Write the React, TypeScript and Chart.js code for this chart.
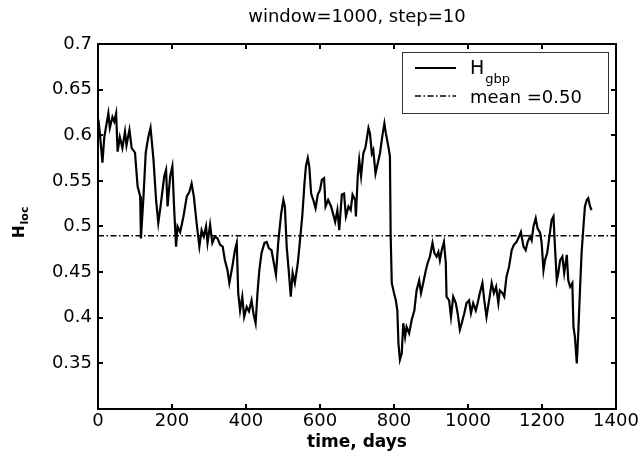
import { useEffect, useRef } from 'react';
import { Chart, registerables } from 'chart.js';

Chart.register(...registerables);

const titleText = 'window=1000, step=10';
const xLabel = 'time, days';
const yLabelMain = 'H';
const yLabelSub = 'loc';
const seriesMain = 'H';
const seriesSub = 'gbp';
const meanLabel = 'mean =0.50';

const days = [
  1, 5, 12, 17, 28, 32, 39, 44, 49, 53, 59, 66, 73, 77, 85, 91, 100, 107, 114, 116, 123, 129, 136, 142, 150, 157, 163, 170, 179, 184,
  188, 195, 201, 206, 211, 215, 222, 231, 240, 247, 253, 259, 267, 274, 280, 286, 292, 296, 303, 309, 316, 323, 330, 337, 343, 350, 355,
  363, 370, 375, 379, 384, 390, 395, 402, 408, 415, 420, 426, 431, 436, 442, 450, 456, 462, 469, 477, 481, 487, 495, 501, 505, 510, 516,
  521, 526, 532, 540, 546, 552, 558, 562, 567, 571, 576, 582, 588, 594, 600, 605, 611, 615, 622, 630, 636, 641, 647, 652, 659, 665, 670,
  677, 683, 688, 695, 697, 702, 706,
  711, 717, 723, 731, 735, 740, 744, 750, 756, 762, 768, 774, 778, 785, 789, 791, 794, 800, 805, 809, 812, 816, 821, 825, 830, 834, 841,
  848, 855, 861, 868, 873, 879, 886, 891, 897, 904, 909, 915, 920, 924, 929, 935, 940, 942, 949, 954, 960, 967, 972, 978, 983, 990, 996,
  1003, 1008, 1014, 1021, 1026, 1032, 1039, 1044, 1050, 1057,
  1064, 1070, 1076, 1082, 1086, 1093, 1098, 1104, 1111, 1118, 1124, 1131, 1138, 1143, 1150, 1156, 1161, 1168, 1172, 1177, 1183, 1188,
  1195, 1199, 1204, 1208, 1214, 1220, 1226, 1231, 1235, 1240, 1244, 1249, 1255, 1260, 1267, 1271, 1276, 1282, 1285, 1289, 1294, 1298,
  1303, 1307, 1312, 1316, 1321, 1325, 1330, 1334,
];

const hloc = [
  0.617, 0.602, 0.570, 0.598, 0.624, 0.608, 0.620, 0.615, 0.624, 0.582, 0.598, 0.586, 0.604, 0.589, 0.606, 0.586, 0.581, 0.544, 0.533, 0.487,
  0.533, 0.581, 0.598, 0.608, 0.573, 0.529, 0.504, 0.525, 0.555, 0.562, 0.522, 0.555, 0.566, 0.518, 0.478, 0.500, 0.494, 0.511, 0.533, 0.538,
  0.547, 0.533, 0.502, 0.478, 0.496, 0.489, 0.500, 0.482, 0.502, 0.482, 0.489, 0.487, 0.480, 0.478, 0.463, 0.452, 0.438,
  0.456, 0.474, 0.482, 0.427, 0.408, 0.423, 0.401, 0.412, 0.407, 0.419, 0.405, 0.394, 0.427, 0.452, 0.471, 0.482, 0.483, 0.476, 0.474, 0.456,
  0.447, 0.482, 0.514, 0.529, 0.522, 0.478, 0.449, 0.423, 0.449, 0.438, 0.460, 0.485, 0.511, 0.547, 0.566, 0.575, 0.566, 0.536, 0.529, 0.520,
  0.535, 0.540, 0.551, 0.553, 0.522, 0.529, 0.522, 0.513, 0.505, 0.518, 0.496, 0.535, 0.536, 0.511, 0.522, 0.518, 0.535, 0.529, 0.511, 0.555,
  0.573,
  0.555, 0.580, 0.587, 0.608, 0.602, 0.580, 0.584, 0.558, 0.569, 0.580, 0.598, 0.613, 0.602, 0.587, 0.577, 0.489, 0.438, 0.427, 0.419, 0.408,
  0.372, 0.354, 0.361, 0.394, 0.379, 0.390, 0.383, 0.398, 0.408, 0.430, 0.441, 0.427, 0.438, 0.452, 0.460, 0.467, 0.482, 0.471, 0.467, 0.472,
  0.463, 0.474, 0.483, 0.460, 0.423, 0.419, 0.401, 0.423, 0.416, 0.405, 0.387, 0.394, 0.405, 0.416, 0.419, 0.405, 0.416, 0.408, 0.416, 0.427,
  0.438, 0.419, 0.401, 0.419,
  0.438, 0.427, 0.434, 0.416, 0.430, 0.427, 0.423, 0.445, 0.456, 0.474, 0.480, 0.483, 0.489, 0.494, 0.478, 0.474, 0.483, 0.489, 0.485, 0.500,
  0.509, 0.498, 0.493, 0.482, 0.452, 0.463, 0.471, 0.489, 0.507, 0.511, 0.478, 0.441, 0.449, 0.463, 0.467, 0.449, 0.469, 0.441, 0.434, 0.438,
  0.390, 0.379, 0.350, 0.383, 0.434, 0.471, 0.500, 0.522, 0.529, 0.531, 0.522, 0.518,
];

const meanDays = [0, 1400];
const meanValue = 0.49;

const xMin = 0;
const xMax = 1400;
const xStep = 200;
const yMin = 0.3;
const yMax = 0.7;
const yStep = 0.05;

const FONT = 'DejaVu Sans';
const DASHDOT = [6, 2.5, 1.5, 2.5];

const frameBorder = { display: true, color: '#000', width: 2 };
const inwardTicks = {
  display: true,
  drawOnChartArea: false,
  drawTicks: true,
  tickLength: -5,
  color: '#000',
  lineWidth: 2,
};

const decorPlugin = {
  id: 'decor',
  afterDraw(chart: any) {
    const ctx = chart.ctx;
    const a = chart.chartArea;
    ctx.save();
    // Legend box
    const lx = 402, ly = 52, lw = 206, lh = 61;
    ctx.fillStyle = '#fff';
    ctx.fillRect(lx, ly, lw, lh);
    ctx.strokeStyle = '#333';
    ctx.lineWidth = 1;
    ctx.strokeRect(lx + 0.5, ly + 0.5, lw, lh);
    ctx.strokeStyle = '#000';
    ctx.lineWidth = 2;
    ctx.beginPath();
    ctx.moveTo(415, 68);
    ctx.lineTo(456, 68);
    ctx.stroke();
    ctx.lineWidth = 1.5;
    ctx.setLineDash(DASHDOT);
    ctx.beginPath();
    ctx.moveTo(415, 96);
    ctx.lineTo(456, 96);
    ctx.stroke();
    ctx.setLineDash([]);
    ctx.fillStyle = '#000';
    ctx.textAlign = 'left';
    ctx.textBaseline = 'alphabetic';
    ctx.font = `19px ${FONT}`;
    ctx.fillText(seriesMain, 470, 74);
    const hw = ctx.measureText(seriesMain).width;
    ctx.font = `13px ${FONT}`;
    ctx.fillText(seriesSub, 470 + hw + 1, 83);
    ctx.font = `18px ${FONT}`;
    ctx.fillText(meanLabel, 470, 103);

    // Title and axis labels
    ctx.textAlign = 'center';
    ctx.textBaseline = 'middle';
    ctx.font = `18px ${FONT}`;
    ctx.fillText(titleText, (a.left + a.right) / 2, 17);
    ctx.font = `bold 17px ${FONT}`;
    ctx.fillText(xLabel, (a.left + a.right) / 2, 443);
    ctx.translate(24, 238);
    ctx.rotate(-Math.PI / 2);
    ctx.textAlign = 'left';
    ctx.textBaseline = 'alphabetic';
    ctx.font = `bold 15px ${FONT}`;
    ctx.fillText(yLabelMain, 0, 0);
    const w = ctx.measureText(yLabelMain).width;
    ctx.font = `bold 11px ${FONT}`;
    ctx.fillText(yLabelSub, w + 1, 4);
    ctx.restore();
  },
};

export default function App() {
  const ref = useRef<HTMLCanvasElement>(null);
  useEffect(() => {
    const chart = new Chart(ref.current as HTMLCanvasElement, {
      type: 'line',
      data: {
        datasets: [
          {
            label: 'Hgbp',
            data: days.map((d, i) => ({ x: d, y: hloc[i] })),
            borderColor: '#000',
            borderWidth: 2.2,
            pointRadius: 0,
            xAxisID: 'x',
            yAxisID: 'y',
          },
          {
            label: 'mean',
            data: meanDays.map((d) => ({ x: d, y: meanValue })),
            borderColor: '#000',
            borderWidth: 1.5,
            borderDash: DASHDOT,
            pointRadius: 0,
            xAxisID: 'x',
            yAxisID: 'y',
          },
        ],
      },
      options: {
        responsive: false,
        animation: false,
        events: [],
        layout: { padding: { left: 0, top: 44, right: 27, bottom: 0 } },
        plugins: {
          legend: { display: false },
          tooltip: { enabled: false },
        },
        scales: {
          x: {
            type: 'linear',
            position: 'bottom',
            min: xMin,
            max: xMax,
            ticks: {
              stepSize: xStep,
              color: '#000',
              font: { family: FONT, size: 18, lineHeight: 1.75 },
              padding: 2,
              maxRotation: 0,
              autoSkip: false,
              callback: (v: any) => String(Math.round(Number(v))),
            },
            grid: inwardTicks,
            border: frameBorder,
            afterFit: (s: any) => {
              s.height = 49;
            },
          },
          x2: {
            type: 'linear',
            position: 'top',
            min: xMin,
            max: xMax,
            ticks: { stepSize: xStep, display: false, autoSkip: false, padding: 0 },
            grid: inwardTicks,
            border: frameBorder,
            afterFit: (s: any) => {
              s.height = 0;
            },
          },
          y: {
            type: 'linear',
            position: 'left',
            min: yMin,
            max: yMax,
            ticks: {
              stepSize: yStep,
              color: '#000',
              font: { family: FONT, size: 18 },
              padding: 11,
              autoSkip: false,
              callback: (v: any) => (Math.abs(Number(v) - yMin) < 1e-9 ? '' : String(Number(Number(v).toFixed(2)))),
            },
            grid: inwardTicks,
            border: frameBorder,
            afterFit: (s: any) => {
              s.width = 98;
            },
          },
          y2: {
            type: 'linear',
            position: 'right',
            min: yMin,
            max: yMax,
            ticks: { stepSize: yStep, display: false, autoSkip: false, padding: 0 },
            grid: inwardTicks,
            border: frameBorder,
            afterFit: (s: any) => {
              s.width = 0;
            },
          },
        },
      } as any,
      plugins: [decorPlugin],
    });
    return () => chart.destroy();
  }, []);
  return (
    <canvas
      ref={ref}
      width={643}
      height={458}
      style={{ position: 'absolute', left: 0, top: 0, display: 'block' }}
    />
  );
}
